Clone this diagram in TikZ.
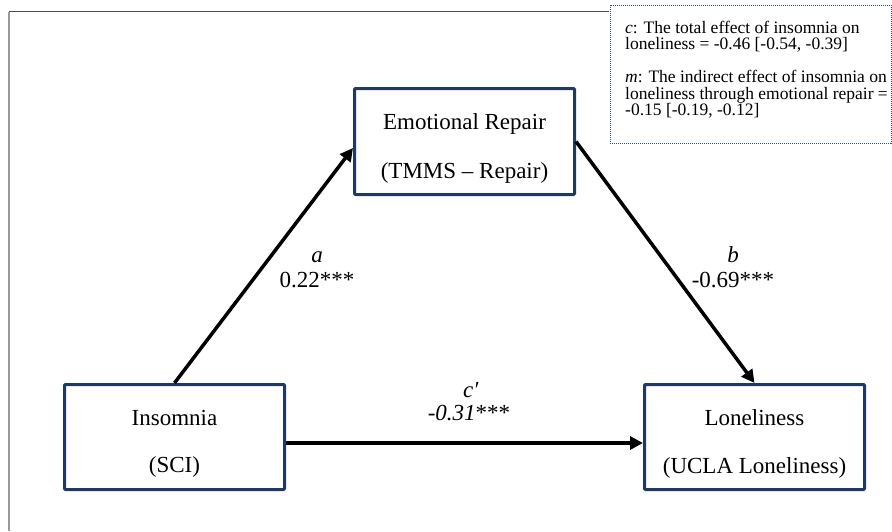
\documentclass[tikz,border=0pt]{standalone}
\usepackage{fontspec}
\setmainfont{Liberation Serif}
\usetikzlibrary{arrows.meta}
\definecolor{boxnavy}{HTML}{1F3864}
\definecolor{dotblue}{HTML}{2F4F7F}
\begin{document}
\begin{tikzpicture}[x=1pt,y=-1pt,
  varbox/.style={draw=boxnavy, line width=3pt, rounded corners=1pt, minimum width=220pt, minimum height=105pt, inner sep=0pt},
  boxtext/.style={font=\fontsize{23}{27}\selectfont, anchor=base, inner sep=0pt},
  lbl/.style={font=\fontsize{23}{27}\selectfont, anchor=base, inner sep=0pt},
  note/.style={font=\fontsize{17.5}{20}\selectfont, anchor=base west, inner sep=0pt},
  arr/.style={line width=3.5pt, -{Triangle[length=13pt,width=13pt]}}]
\useasboundingbox (0,0) rectangle (892,531);

% outer frame
\draw[draw=black!70, line width=1.5pt] (609,11.5) -- (9,11.5);
\draw[draw=black!40, line width=1.5pt] (9,11.5) -- (9,531);

% note box
\node[draw=dotblue, line width=1.2pt, dash pattern=on 1pt off 1pt, minimum width=281pt, minimum height=138pt, anchor=north west, inner sep=0pt] (notebox) at (609.6,4.6) {};
\node[note] (n1) at (625,33) {\textit{c}: The total effect of insomnia on};
\node[note] (n2) at (625,49.5) {loneliness = -0.46 [-0.54, -0.39]};
\node[note] (n3) at (625,82.5) {\textit{m}: The indirect effect of insomnia on};
\node[note] (n4) at (625,99) {loneliness through emotional repair =};
\node[note] (n5) at (625,115.5) {-0.15 [-0.19, -0.12]};

% boxes
\node[varbox, minimum height=106pt] (er) at (464.5,141.5) {};
\node[varbox] (ins) at (174.5,437) {};
\node[varbox] (lon) at (754.5,437) {};

\node[boxtext] (er1) at (464.5,129) {Emotional Repair};
\node[boxtext] (er2) at (464.5,178) {(TMMS – Repair)};
\node[boxtext] (ins1) at (174.5,425) {Insomnia};
\node[boxtext] (ins2) at (174.5,472) {(SCI)};
\node[boxtext] (lon1) at (754.5,425) {Loneliness};
\node[boxtext] (lon2) at (754.5,473) {(UCLA Loneliness)};

% arrows
\draw[arr] (ins.north) -- ([yshift=-6.5pt]er.west);
\draw[arr] (er.east) -- (lon.north);
\draw[arr] ([yshift=-6pt]ins.east) -- ([yshift=-6pt]lon.west);

% labels
\node[lbl] (la) at (317,262) {\textit{a}};
\node[lbl] (va) at (317,287) {0.22***};
\node[lbl] (lb) at (733,262) {\textit{b}};
\node[lbl] (vb) at (733,287) {-0.69***};
\node[lbl] (lc) at (471,397) {\textit{c′}};
\node[lbl] (vc) at (469,420) {\textit{-0.31}***};
\end{tikzpicture}
\end{document}
